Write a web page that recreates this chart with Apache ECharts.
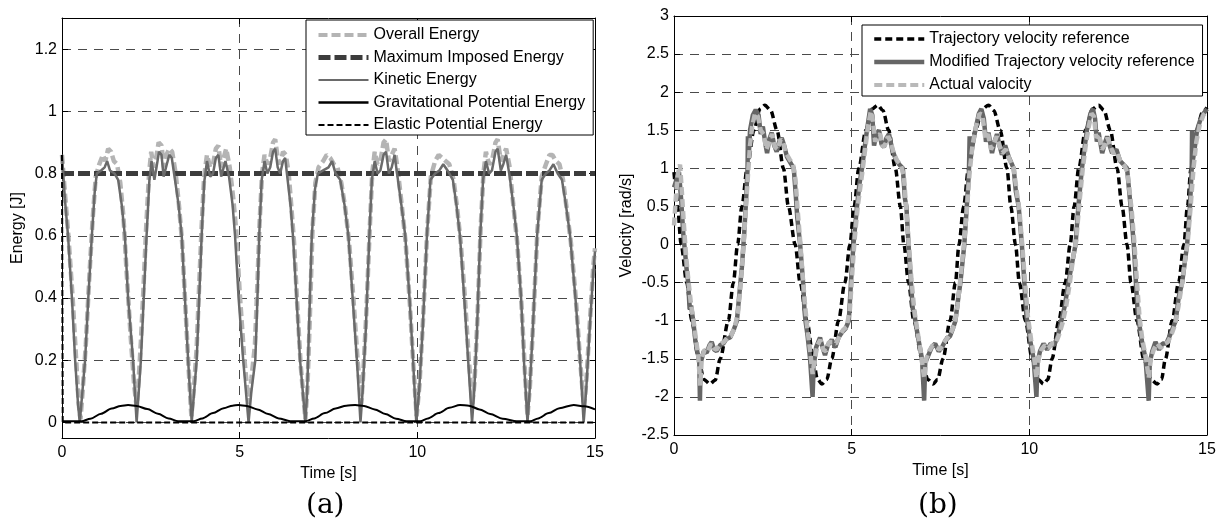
<!DOCTYPE html>
<html>
<head>
<meta charset="utf-8">
<title>Energy and velocity</title>
<script src="https://cdn.jsdelivr.net/npm/echarts@6/dist/echarts.min.js"></script>
<style>
  html, body { margin: 0; padding: 0; background: #fff; }
  #chart { width: 1222px; height: 530px; }
</style>
</head>
<body>
<div id="chart"></div>
<script>
// ---- panel (a): energy ----
const energyTicks = [0, 0.2, 0.4, 0.6, 0.8, 1, 1.2];
const timeTicks = [0, 5, 10, 15];

const overallEnergy = [
  [0, 0.86], [0.08, 0.74], [0.18, 0.6], [0.3, 0.4], [0.4, 0.2], [0.47, 0.06], [0.52, 0.01],
  [0.58, 0.1], [0.67, 0.25], [0.76, 0.45], [0.86, 0.65], [0.95, 0.79], [1.05, 0.83], [1.15, 0.86], [1.22, 0.84], [1.3, 0.88], [1.38, 0.87], [1.46, 0.84], [1.55, 0.83], [1.64, 0.77], [1.73, 0.66], [1.82, 0.48], [1.93, 0.28], [2.03, 0.12], [2.1, 0.05],
  [2.16, 0.14], [2.22, 0.26], [2.3, 0.45], [2.37, 0.63], [2.45, 0.8], [2.51, 0.87], [2.58, 0.82], [2.65, 0.85], [2.72, 0.9], [2.8, 0.89], [2.87, 0.82], [2.94, 0.86], [3.02, 0.88], [3.1, 0.87], [3.2, 0.8], [3.29, 0.7], [3.38, 0.58], [3.47, 0.38], [3.56, 0.18], [3.64, 0.02],
  [3.72, 0.12], [3.79, 0.24], [3.86, 0.44], [3.93, 0.63], [4.0, 0.79], [4.08, 0.86], [4.17, 0.82], [4.25, 0.83], [4.33, 0.88], [4.4, 0.89], [4.48, 0.82], [4.55, 0.85], [4.62, 0.88], [4.72, 0.82], [4.82, 0.72], [4.9, 0.62], [5.0, 0.42], [5.12, 0.22], [5.25, 0.06],
  [5.33, 0.14], [5.43, 0.25], [5.5, 0.45], [5.56, 0.64], [5.63, 0.8], [5.7, 0.86], [5.78, 0.83], [5.86, 0.85], [5.94, 0.9], [6.0, 0.91], [6.07, 0.85], [6.14, 0.83], [6.22, 0.87], [6.3, 0.86], [6.38, 0.8], [6.45, 0.7], [6.53, 0.58], [6.62, 0.38], [6.72, 0.18], [6.85, 0.01],
  [6.91, 0.12], [6.97, 0.32], [7.05, 0.62], [7.13, 0.77], [7.22, 0.82], [7.35, 0.84], [7.45, 0.86], [7.55, 0.85], [7.65, 0.83], [7.75, 0.82], [7.86, 0.77], [7.97, 0.69], [8.08, 0.58], [8.2, 0.4], [8.32, 0.2], [8.42, 0.06],
  [8.47, 0.14], [8.56, 0.34], [8.66, 0.62], [8.73, 0.8], [8.8, 0.87], [8.88, 0.83], [8.96, 0.84], [9.05, 0.9], [9.12, 0.91], [9.2, 0.84], [9.28, 0.86], [9.36, 0.88], [9.44, 0.82], [9.56, 0.7], [9.67, 0.58], [9.79, 0.38], [9.89, 0.18], [9.98, 0.02],
  [10.06, 0.12], [10.16, 0.33], [10.28, 0.62], [10.38, 0.79], [10.5, 0.84], [10.6, 0.86], [10.7, 0.85], [10.8, 0.84], [10.9, 0.83], [11.02, 0.78], [11.12, 0.69], [11.22, 0.58], [11.34, 0.4], [11.45, 0.2], [11.55, 0.06],
  [11.61, 0.13], [11.69, 0.33], [11.78, 0.62], [11.86, 0.8], [11.93, 0.87], [12.02, 0.83], [12.1, 0.84], [12.2, 0.9], [12.26, 0.91], [12.35, 0.84], [12.42, 0.86], [12.5, 0.88], [12.6, 0.82], [12.7, 0.7], [12.81, 0.58], [12.93, 0.38], [13.02, 0.18], [13.1, 0.02],
  [13.17, 0.12], [13.26, 0.32], [13.38, 0.62], [13.5, 0.79], [13.62, 0.83], [13.72, 0.86], [13.8, 0.86], [13.9, 0.84], [14.0, 0.83], [14.1, 0.78], [14.2, 0.69], [14.32, 0.58], [14.46, 0.4], [14.58, 0.2], [14.69, 0.05],
  [14.76, 0.14], [14.86, 0.33], [14.95, 0.5], [15, 0.56]
];

const maxImposedEnergy = [[0, 0.8], [15, 0.8]];

const kineticEnergy = [
  [0, 0.86], [0.08, 0.72], [0.17, 0.6], [0.28, 0.4], [0.37, 0.2], [0.45, 0.06], [0.5, 0],
  [0.56, 0.08], [0.65, 0.2], [0.74, 0.4], [0.84, 0.6], [0.92, 0.74], [0.98, 0.8], [1.1, 0.81], [1.2, 0.82], [1.27, 0.84], [1.35, 0.81], [1.48, 0.8], [1.58, 0.78], [1.68, 0.7], [1.77, 0.6], [1.86, 0.4], [2.0, 0.2], [2.1, 0],
  [2.16, 0.1], [2.22, 0.2], [2.3, 0.4], [2.38, 0.6], [2.46, 0.78], [2.52, 0.84], [2.6, 0.78], [2.66, 0.82], [2.73, 0.87], [2.8, 0.86], [2.86, 0.79], [2.95, 0.83], [3.02, 0.86], [3.09, 0.85], [3.18, 0.78], [3.28, 0.7], [3.37, 0.6], [3.46, 0.4], [3.55, 0.2], [3.65, 0],
  [3.72, 0.1], [3.79, 0.2], [3.86, 0.4], [3.93, 0.6], [4.0, 0.77], [4.08, 0.84], [4.17, 0.79], [4.25, 0.8], [4.33, 0.85], [4.4, 0.86], [4.48, 0.79], [4.55, 0.82], [4.6, 0.84], [4.7, 0.79], [4.8, 0.7], [4.87, 0.6], [4.97, 0.4], [5.1, 0.2], [5.25, 0],
  [5.33, 0.1], [5.44, 0.2], [5.5, 0.4], [5.55, 0.6], [5.62, 0.78], [5.7, 0.84], [5.78, 0.8], [5.86, 0.82], [5.94, 0.87], [6.0, 0.88], [6.07, 0.82], [6.14, 0.8], [6.22, 0.84], [6.28, 0.85], [6.35, 0.78], [6.43, 0.7], [6.5, 0.6], [6.6, 0.4], [6.7, 0.2], [6.85, 0],
  [6.9, 0.1], [6.95, 0.3], [7.03, 0.6], [7.12, 0.75], [7.2, 0.8], [7.35, 0.81], [7.5, 0.82], [7.6, 0.84], [7.7, 0.8], [7.83, 0.78], [7.95, 0.7], [8.06, 0.6], [8.18, 0.4], [8.3, 0.2], [8.4, 0],
  [8.46, 0.1], [8.55, 0.3], [8.65, 0.6], [8.72, 0.78], [8.8, 0.84], [8.88, 0.8], [8.96, 0.81], [9.05, 0.86], [9.12, 0.87], [9.2, 0.8], [9.28, 0.82], [9.36, 0.86], [9.43, 0.8], [9.55, 0.7], [9.66, 0.6], [9.78, 0.4], [9.88, 0.2], [9.97, 0],
  [10.05, 0.1], [10.15, 0.3], [10.27, 0.6], [10.37, 0.78], [10.5, 0.8], [10.62, 0.81], [10.73, 0.83], [10.85, 0.81], [11.0, 0.78], [11.1, 0.7], [11.2, 0.6], [11.32, 0.4], [11.43, 0.2], [11.54, 0],
  [11.6, 0.1], [11.68, 0.3], [11.77, 0.6], [11.85, 0.78], [11.93, 0.84], [12.02, 0.8], [12.1, 0.81], [12.2, 0.87], [12.26, 0.88], [12.35, 0.81], [12.42, 0.83], [12.5, 0.86], [12.6, 0.79], [12.7, 0.7], [12.8, 0.6], [12.92, 0.4], [13.0, 0.2], [13.1, 0],
  [13.16, 0.1], [13.25, 0.3], [13.37, 0.6], [13.5, 0.78], [13.62, 0.8], [13.72, 0.81], [13.83, 0.83], [13.95, 0.8], [14.07, 0.78], [14.18, 0.7], [14.3, 0.6], [14.45, 0.4], [14.58, 0.2], [14.68, 0],
  [14.75, 0.1], [14.85, 0.3], [14.95, 0.48], [15, 0.55]
];

const gravitationalEnergy = [
  [0, 0.004], [0.55, 0.004], [0.8, 0.012], [1.1, 0.028], [1.4, 0.045], [1.65, 0.053], [1.86, 0.056], [2.1, 0.053], [2.4, 0.043], [2.7, 0.028], [3.0, 0.013], [3.27, 0.004],
  [3.7, 0.004], [3.95, 0.013], [4.25, 0.03], [4.55, 0.046], [4.8, 0.054], [4.96, 0.056], [5.2, 0.053], [5.5, 0.042], [5.8, 0.027], [6.1, 0.013], [6.42, 0.004],
  [6.85, 0.004], [7.1, 0.013], [7.4, 0.03], [7.7, 0.045], [8.0, 0.054], [8.25, 0.056], [8.5, 0.053], [8.8, 0.042], [9.1, 0.027], [9.4, 0.012], [9.7, 0.004],
  [10.08, 0.004], [10.3, 0.013], [10.6, 0.03], [10.9, 0.047], [11.2, 0.056], [11.45, 0.054], [11.75, 0.042], [12.05, 0.027], [12.4, 0.012], [12.8, 0.004],
  [13.18, 0.004], [13.4, 0.013], [13.7, 0.03], [14.0, 0.046], [14.4, 0.056], [14.7, 0.052], [15, 0.042]
];

const elasticEnergy = [[0, 0.86], [0.02, 0], [15, 0]];

// ---- panel (b): velocity ----
const velocityTicks = [-2.5, -2, -1.5, -1, -0.5, 0, 0.5, 1, 1.5, 2, 2.5, 3];

const trajectoryVelocity = [
  [0, 0.95], [0.05, 0.75], [0.1, 0.5], [0.2, 0], [0.36, -0.5], [0.5, -1.0], [0.69, -1.5], [0.84, -1.77], [1.01, -1.83], [1.16, -1.78], [1.3, -1.5], [1.53, -1.0], [1.67, -0.5], [1.79, 0], [1.91, 0.5], [2.06, 1.0], [2.25, 1.5], [2.42, 1.78], [2.56, 1.83], [2.72, 1.76], [2.9, 1.5], [3.08, 1.0], [3.22, 0.5], [3.41, 0], [3.55, -0.5], [3.74, -1.0], [3.92, -1.5], [4.03, -1.76],
  [4.16, -1.83], [4.3, -1.77], [4.44, -1.5], [4.63, -1.0], [4.81, -0.5], [4.95, 0], [5.07, 0.5], [5.2, 1.0], [5.4, 1.5], [5.58, 1.78], [5.73, 1.83], [5.88, 1.76], [6.04, 1.5], [6.23, 1.0], [6.37, 0.5], [6.47, 0], [6.6, -0.5], [6.75, -1.0], [6.98, -1.5], [7.14, -1.77],
  [7.29, -1.83], [7.42, -1.77], [7.57, -1.5], [7.77, -1.0], [7.92, -0.5], [8.02, 0], [8.15, 0.5], [8.29, 1.0], [8.48, 1.5], [8.68, 1.78], [8.85, 1.83], [9.0, 1.76], [9.18, 1.5], [9.37, 1.0], [9.48, 0.5], [9.61, 0], [9.72, -0.5], [9.89, -1.0], [10.08, -1.5], [10.25, -1.77],
  [10.4, -1.83], [10.52, -1.77], [10.64, -1.5], [10.83, -1.0], [11.01, -0.5], [11.15, 0], [11.26, 0.5], [11.39, 1.0], [11.58, 1.5], [11.78, 1.78], [11.95, 1.83], [12.1, 1.76], [12.28, 1.5], [12.47, 1.0], [12.61, 0.5], [12.75, 0], [12.86, -0.5], [13.03, -1.0], [13.22, -1.5], [13.42, -1.77],
  [13.6, -1.83], [13.72, -1.77], [13.83, -1.5], [14.02, -1.0], [14.2, -0.5], [14.35, 0], [14.45, 0.5], [14.55, 1.0], [14.7, 1.5], [14.88, 1.74], [15, 1.8]
];

const modifiedVelocity = [
  [0, 0.75], [0.07, 0.85], [0.14, 0.95], [0.2, 0.6], [0.26, 0.15], [0.31, -0.1], [0.36, -0.35], [0.4, -0.5], [0.44, -0.85], [0.48, -0.8], [0.54, -1.0], [0.6, -1.25], [0.66, -1.42], [0.71, -1.5], [0.73, -2.05], [0.75, -1.55],
  [0.84, -1.4], [0.92, -1.42], [1.0, -1.32], [1.06, -1.28], [1.13, -1.38], [1.2, -1.4], [1.3, -1.32], [1.39, -1.3], [1.47, -1.24], [1.58, -1.22], [1.68, -1.12], [1.77, -1.0],
  [1.85, -0.6], [1.91, -0.3], [1.97, 0.1], [2.03, 0.6], [2.07, 1.0], [2.08, 1.42], [2.1, 1.12], [2.14, 1.5], [2.22, 1.7], [2.3, 1.77],
  [2.38, 1.7], [2.44, 1.45], [2.5, 1.55], [2.58, 1.3], [2.62, 1.2], [2.68, 1.38], [2.75, 1.47], [2.82, 1.3], [2.89, 1.22], [2.96, 1.35], [3.03, 1.4], [3.1, 1.3], [3.18, 1.15], [3.27, 1.08], [3.37, 1.0],
  [3.42, 0.7], [3.47, 0.35], [3.55, 0], [3.6, -0.3], [3.64, -0.55], [3.67, -0.85], [3.7, -1.0], [3.76, -1.2], [3.83, -1.5], [3.9, -2.0], [3.93, -1.6],
  [4.0, -1.35], [4.11, -1.22], [4.18, -1.35], [4.25, -1.45], [4.33, -1.32], [4.44, -1.25], [4.54, -1.35], [4.63, -1.22], [4.73, -1.15], [4.83, -1.1], [4.92, -1.0],
  [4.98, -0.5], [5.05, 0], [5.15, 0.5], [5.22, 0.8], [5.29, 1.0], [5.36, 1.25], [5.43, 1.5], [5.52, 1.78],
  [5.58, 1.7], [5.63, 1.3], [5.7, 1.45], [5.77, 1.5], [5.84, 1.32], [5.91, 1.28], [5.98, 1.4], [6.05, 1.45], [6.14, 1.25], [6.24, 1.12], [6.34, 1.05], [6.44, 1.0],
  [6.5, 0.6], [6.54, 0.5], [6.6, 0], [6.67, -0.5], [6.72, -0.85], [6.76, -0.88], [6.79, -1.0], [6.88, -1.25], [6.98, -1.5], [7.04, -2.05], [7.07, -1.55],
  [7.16, -1.45], [7.25, -1.35], [7.35, -1.3], [7.45, -1.4], [7.54, -1.35], [7.65, -1.25], [7.77, -1.2], [7.85, -1.1], [7.92, -1.0],
  [8.0, -0.7], [8.06, -0.5], [8.17, 0], [8.24, 0.5], [8.3, 0.95], [8.32, 1.42], [8.34, 1.1], [8.4, 1.3], [8.48, 1.5], [8.58, 1.72], [8.65, 1.78],
  [8.72, 1.65], [8.78, 1.35], [8.85, 1.47], [8.95, 1.2], [9.02, 1.35], [9.09, 1.45], [9.16, 1.3], [9.23, 1.18], [9.32, 1.3], [9.42, 1.15], [9.56, 1.0],
  [9.62, 0.7], [9.7, 0.5], [9.79, 0], [9.86, -0.5], [9.92, -0.95], [9.96, -1.05], [10.02, -1.25], [10.12, -1.5], [10.2, -2.0], [10.23, -1.55],
  [10.3, -1.4], [10.4, -1.3], [10.5, -1.38], [10.6, -1.3], [10.7, -1.32], [10.8, -1.2], [10.9, -1.0], [11.0, -0.8], [11.1, -0.5],
  [11.3, 0], [11.38, 0.5], [11.48, 1.0], [11.55, 1.25], [11.62, 1.5], [11.72, 1.72], [11.79, 1.78],
  [11.85, 1.65], [11.9, 1.35], [11.95, 1.47], [12.05, 1.2], [12.12, 1.32], [12.19, 1.42], [12.26, 1.3], [12.33, 1.2], [12.45, 1.25], [12.55, 1.1], [12.65, 1.05], [12.75, 1.0],
  [12.8, 0.75], [12.85, 0.5], [12.94, 0], [13.0, -0.5], [13.05, -0.9], [13.08, -1.0], [13.16, -1.25], [13.27, -1.5], [13.36, -2.05], [13.39, -1.55],
  [13.46, -1.4], [13.55, -1.28], [13.65, -1.38], [13.75, -1.3], [13.85, -1.3], [13.95, -1.2], [14.05, -1.08], [14.12, -1.0], [14.2, -0.7], [14.3, -0.5],
  [14.44, 0], [14.52, 0.5], [14.57, 1.0], [14.58, 1.5], [14.6, 1.1], [14.65, 1.25], [14.72, 1.5], [14.8, 1.62], [14.9, 1.72], [15, 1.78]
];

const actualVelocity = [
  [0, 0.25], [0.05, 0.6], [0.1, 0.9], [0.17, 1.05], [0.22, 0.7], [0.28, 0.25], [0.34, -0.15], [0.4, -0.45], [0.47, -0.75], [0.55, -1.0], [0.62, -1.25], [0.68, -1.45], [0.74, -1.85], [0.78, -1.5],
  [0.86, -1.38], [0.95, -1.4], [1.04, -1.3], [1.12, -1.36], [1.2, -1.38], [1.3, -1.3], [1.4, -1.28], [1.5, -1.22], [1.6, -1.2], [1.7, -1.1], [1.8, -0.9], [1.88, -0.5], [1.95, -0.05], [2.02, 0.45], [2.08, 0.9], [2.14, 1.3], [2.2, 1.55], [2.28, 1.72],
  [2.36, 1.68], [2.44, 1.5], [2.52, 1.45], [2.6, 1.25], [2.68, 1.35], [2.76, 1.45], [2.84, 1.28], [2.92, 1.25], [3.0, 1.38], [3.07, 1.35], [3.15, 1.2], [3.25, 1.12], [3.35, 1.05], [3.42, 0.85], [3.48, 0.45], [3.55, 0.05], [3.62, -0.4], [3.68, -0.75], [3.74, -1.05], [3.82, -1.35], [3.9, -1.7], [3.96, -1.5],
  [4.04, -1.32], [4.12, -1.25], [4.2, -1.38], [4.28, -1.4], [4.36, -1.28], [4.46, -1.28], [4.56, -1.3], [4.66, -1.2], [4.76, -1.12], [4.86, -1.08], [4.95, -0.85], [5.02, -0.35], [5.08, 0.05], [5.17, 0.5], [5.3, 0.95], [5.38, 1.25], [5.46, 1.55], [5.54, 1.75],
  [5.6, 1.62], [5.66, 1.35], [5.72, 1.42], [5.8, 1.45], [5.88, 1.28], [5.95, 1.32], [6.02, 1.42], [6.1, 1.35], [6.18, 1.2], [6.28, 1.1], [6.38, 1.05], [6.47, 0.9], [6.53, 0.5], [6.6, 0.05], [6.68, -0.45], [6.76, -0.85], [6.84, -1.1], [6.94, -1.4], [7.04, -1.75], [7.1, -1.5],
  [7.18, -1.4], [7.28, -1.32], [7.38, -1.35], [7.48, -1.38], [7.58, -1.3], [7.7, -1.22], [7.8, -1.15], [7.9, -1.05], [7.98, -0.8], [8.06, -0.45], [8.16, 0.0], [8.24, 0.45], [8.32, 0.95], [8.4, 1.3], [8.5, 1.55], [8.6, 1.72],
  [8.68, 1.7], [8.76, 1.4], [8.84, 1.45], [8.92, 1.25], [9.0, 1.32], [9.08, 1.42], [9.16, 1.3], [9.24, 1.2], [9.34, 1.25], [9.44, 1.12], [9.56, 1.0], [9.63, 0.75], [9.72, 0.45], [9.8, 0.0], [9.88, -0.5], [9.96, -0.95], [10.05, -1.25], [10.14, -1.5], [10.2, -1.75], [10.26, -1.5],
  [10.34, -1.38], [10.44, -1.32], [10.54, -1.36], [10.64, -1.3], [10.74, -1.3], [10.84, -1.18], [10.94, -1.02], [11.04, -0.8], [11.14, -0.5], [11.24, -0.15], [11.32, 0.05], [11.4, 0.5], [11.5, 0.98], [11.58, 1.28], [11.66, 1.52], [11.75, 1.72],
  [11.82, 1.68], [11.88, 1.4], [11.96, 1.45], [12.04, 1.25], [12.12, 1.3], [12.2, 1.4], [12.28, 1.3], [12.36, 1.2], [12.46, 1.22], [12.56, 1.1], [12.66, 1.05], [12.76, 0.95], [12.82, 0.7], [12.88, 0.45], [12.96, 0.0], [13.03, -0.5], [13.1, -0.95], [13.18, -1.25], [13.28, -1.48], [13.36, -1.75], [13.42, -1.5],
  [13.5, -1.38], [13.6, -1.3], [13.7, -1.36], [13.8, -1.3], [13.9, -1.28], [14.0, -1.18], [14.1, -1.05], [14.2, -0.8], [14.3, -0.5], [14.38, -0.2], [14.46, 0.05], [14.54, 0.5], [14.62, 1.0], [14.7, 1.35], [14.8, 1.58], [14.9, 1.7], [15, 1.75]
];

const FONT = "'Liberation Sans', Arial, sans-serif";
const gridDash = { color: '#4a4a4a', width: 1, type: [9, 7] };

function xAxisPair(gridIndex) {
  return [
    {
      type: 'value', gridIndex: gridIndex, min: 0, max: 15, interval: 5,
      name: 'Time [s]', nameLocation: 'middle', nameGap: 26,
      nameTextStyle: { color: '#000', fontSize: 16, fontFamily: FONT },
      axisLine: { onZero: false, lineStyle: { color: '#000', width: 1 } },
      axisTick: { inside: true, length: 6, lineStyle: { color: '#000' } },
      axisLabel: { color: '#000', fontSize: 16, fontFamily: FONT, margin: 7 },
      splitLine: { show: true, lineStyle: gridDash }
    },
    {
      type: 'value', gridIndex: gridIndex, position: 'top', min: 0, max: 15, interval: 5,
      axisLine: { onZero: false, lineStyle: { color: '#000', width: 1 } },
      axisTick: { inside: true, length: 6, lineStyle: { color: '#000' } },
      axisLabel: { show: false },
      splitLine: { show: false }
    }
  ];
}

function yAxisPair(gridIndex, min, max, ticks, name, nameGap) {
  return [
    {
      type: 'value', gridIndex: gridIndex, min: min, max: max,
      name: name, nameLocation: 'middle', nameGap: nameGap,
      nameTextStyle: { color: '#000', fontSize: 16, fontFamily: FONT },
      axisLine: { show: true, onZero: false, lineStyle: { color: '#000', width: 1 } },
      axisTick: { show: true, inside: true, length: 6, customValues: ticks, lineStyle: { color: '#000' } },
      axisLabel: { color: '#000', fontSize: 16, fontFamily: FONT, margin: 5, customValues: ticks },
      splitLine: { show: true, lineStyle: gridDash }
    },
    {
      type: 'value', gridIndex: gridIndex, position: 'right', min: min, max: max,
      axisLine: { show: true, onZero: false, lineStyle: { color: '#000', width: 1 } },
      axisTick: { show: true, inside: true, length: 6, customValues: ticks, lineStyle: { color: '#000' } },
      axisLabel: { show: false, customValues: ticks },
      splitLine: { show: false }
    }
  ];
}

function line(name, data, xi, yi, color, width, type, extra) {
  return Object.assign({
    name: name, type: 'line', data: data,
    xAxisIndex: xi, yAxisIndex: yi,
    symbol: 'none', showSymbol: false,
    lineStyle: { color: color, width: width, type: type },
    itemStyle: { color: color },
    emphasis: { disabled: true },
    animation: false
  }, extra || {});
}

// legend samples show only the line, no marker
const noMarker = { color: 'rgba(0,0,0,0)', borderColor: 'rgba(0,0,0,0)', borderWidth: 0, opacity: 0 };

const legendBase = {
  orient: 'vertical',
  backgroundColor: '#fff',
  borderColor: '#000',
  borderWidth: 1,
  borderRadius: 0,
  itemWidth: 50,
  itemHeight: 14,
  selectedMode: false,
  itemStyle: noMarker,
  textStyle: { color: '#000', fontSize: 16, fontFamily: FONT, lineHeight: 16 }
};

const chart = echarts.init(document.getElementById('chart'), null, { renderer: 'canvas' });

chart.setOption({
  backgroundColor: '#fff',
  animation: false,
  grid: [
    { left: 62, top: 18, width: 533, height: 420 },
    { left: 674, top: 16, width: 533, height: 419 }
  ],
  xAxis: [].concat(xAxisPair(0), xAxisPair(1)),
  yAxis: [].concat(
    yAxisPair(0, -0.05, 1.3, energyTicks, 'Energy [J]', 36),
    yAxisPair(1, -2.5, 3, velocityTicks, 'Velocity [rad/s]', 39)
  ),
  legend: [
    Object.assign({}, legendBase, {
      left: 306, top: 20, itemGap: 6.5,
      padding: [7, 8, 2, 10],
      data: [
        { name: 'Overall Energy', lineStyle: { width: 4 }, itemStyle: noMarker },
        { name: 'Maximum Imposed Energy', lineStyle: { width: 5 }, itemStyle: noMarker },
        { name: 'Kinetic Energy', lineStyle: { width: 2 }, itemStyle: noMarker },
        { name: 'Gravitational Potential Energy', lineStyle: { width: 2.5 }, itemStyle: noMarker },
        { name: 'Elastic Potential Energy', lineStyle: { width: 2 }, itemStyle: noMarker }
      ]
    }),
    Object.assign({}, legendBase, {
      left: 862, top: 25, itemGap: 7,
      padding: [6, 8, 3, 10],
      data: [
        { name: 'Trajectory velocity reference', lineStyle: { width: 3.5 }, itemStyle: noMarker },
        { name: 'Modified Trajectory velocity reference', lineStyle: { width: 4.5 }, itemStyle: noMarker },
        { name: 'Actual valocity', lineStyle: { width: 4 }, itemStyle: noMarker }
      ]
    })
  ],
  graphic: [
    { type: 'text', left: 306, top: 492, style: { text: '(a)', fontSize: 28, fontFamily: "'DejaVu Serif', serif", fill: '#000' } },
    { type: 'text', left: 918, top: 492, style: { text: '(b)', fontSize: 28, fontFamily: "'DejaVu Serif', serif", fill: '#000' } }
  ],
  series: [
    line('Overall Energy', overallEnergy, 0, 0, '#b4b4b4', 4.5, [9, 4]),
    line('Maximum Imposed Energy', maxImposedEnergy, 0, 0, '#3c3c3c', 5, [12, 4]),
    line('Kinetic Energy', kineticEnergy, 0, 0, '#6a6a6a', 2.5, 'solid'),
    line('Gravitational Potential Energy', gravitationalEnergy, 0, 0, '#000', 2, 'solid', { smooth: 0.3, smoothMonotone: 'x' }),
    line('Elastic Potential Energy', elasticEnergy, 0, 0, '#000', 2, [6, 3]),
    line('Trajectory velocity reference', trajectoryVelocity, 2, 2, '#000', 3.5, [7, 4], { smooth: 0.3, smoothMonotone: 'x' }),
    line('Modified Trajectory velocity reference', modifiedVelocity, 2, 2, '#666', 4.5, 'solid'),
    line('Actual valocity', actualVelocity, 2, 2, '#b9b9b9', 4.5, [8, 4])
  ]
});

window.addEventListener('resize', () => chart.resize());
</script>
</body>
</html>
